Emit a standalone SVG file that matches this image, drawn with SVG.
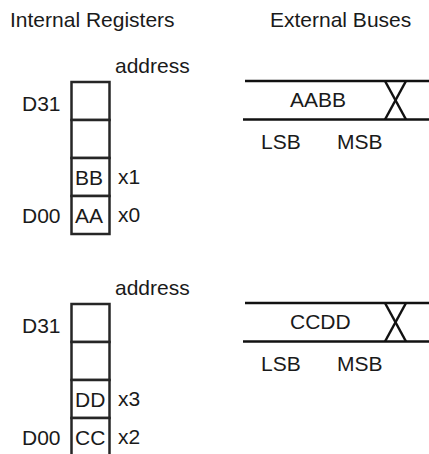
<svg xmlns="http://www.w3.org/2000/svg" width="429" height="454" viewBox="0 0 429 454">
<style>
text{font-family:"Liberation Sans",Arial,sans-serif;font-size:21px;fill:#1a1a1a}
.cell{fill:#fff;stroke:#262626;stroke-width:2.5}
.bus{stroke:#111;stroke-width:2.5;fill:none}
</style>
<rect width="429" height="454" fill="#fff"/>
<text x="10" y="27">Internal Registers</text>
<text x="270" y="27">External Buses</text>
<g id="regs1">
<text x="115" y="73">address</text>
<text x="22" y="111">D31</text>
<rect class="cell" x="71.5" y="82" width="38" height="38"/>
<rect class="cell" x="71.5" y="120" width="38" height="38"/>
<rect class="cell" x="71.5" y="158" width="38" height="38"/>
<rect class="cell" x="71.5" y="196" width="38" height="38"/>
<text x="75" y="185">BB</text>
<text x="75" y="223">AA</text>
<text x="118" y="184">x1</text>
<text x="118" y="222">x0</text>
<text x="22" y="223">D00</text>
</g>
<g id="bus1">
<line class="bus" x1="245" y1="81" x2="429" y2="81"/>
<line class="bus" x1="243" y1="119.5" x2="429" y2="119.5"/>
<line class="bus" x1="385" y1="81" x2="406" y2="119.5"/>
<line class="bus" x1="406" y1="81" x2="385" y2="119.5"/>
<text x="290" y="107">AABB</text>
<text x="261" y="149">LSB</text>
<text x="337" y="149">MSB</text>
</g>
<g id="regs2">
<text x="115" y="295">address</text>
<text x="22" y="333">D31</text>
<rect class="cell" x="71.5" y="304" width="38" height="38"/>
<rect class="cell" x="71.5" y="342" width="38" height="38"/>
<rect class="cell" x="71.5" y="380" width="38" height="38"/>
<rect class="cell" x="71.5" y="418" width="38" height="38"/>
<text x="75" y="407">DD</text>
<text x="75" y="445">CC</text>
<text x="118" y="406">x3</text>
<text x="118" y="444">x2</text>
<text x="22" y="445">D00</text>
</g>
<g id="bus2">
<line class="bus" x1="245" y1="303" x2="429" y2="303"/>
<line class="bus" x1="243" y1="341.5" x2="429" y2="341.5"/>
<line class="bus" x1="385" y1="303" x2="406" y2="341.5"/>
<line class="bus" x1="406" y1="303" x2="385" y2="341.5"/>
<text x="290" y="329">CCDD</text>
<text x="261" y="371">LSB</text>
<text x="337" y="371">MSB</text>
</g>
<g id="connectors"></g>
</svg>
